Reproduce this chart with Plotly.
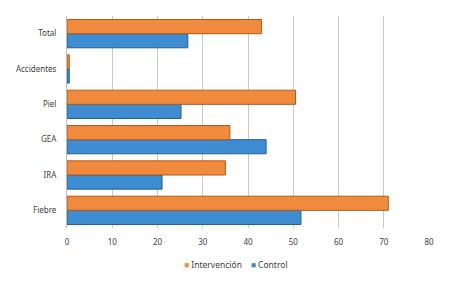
import plotly.graph_objects as go

categories = ["Fiebre", "IRA", "GEA", "Piel", "Accidentes", "Total"]
intervencion = [71, 35, 36, 50.5, 0.5, 43]
control = [51.7, 21, 44, 25.2, 0.5, 26.7]
x_ticks = [0, 10, 20, 30, 40, 50, 60, 70, 80]
series_names = ["Intervención", "Control"]

blue = "#3E8DD3"
orange = "#F08A3C"

fig = go.Figure()
fig.add_trace(go.Bar(
    y=categories, x=control, orientation="h", name=series_names[1],
    marker=dict(color=blue, line=dict(color="#1F5E96", width=1)),
))
fig.add_trace(go.Bar(
    y=categories, x=intervencion, orientation="h", name=series_names[0],
    marker=dict(color=orange, line=dict(color="#B35A18", width=1)),
))

nb = "\u00a0"
legend_text = (f"<span style='color:{orange}'>■</span>{nb}{series_names[0]}"
               f"{nb*4}<span style='color:{blue}'>■</span>{nb}{series_names[1]}")
fig.add_annotation(text=legend_text, xref="paper", yref="paper",
                   x=(236 - 67) / 362, y=-(264 - 228) / 212,
                   xanchor="center", yanchor="middle", showarrow=False,
                   font=dict(size=8.5, color="#404040"))

fig.update_layout(
    width=465, height=282,
    margin=dict(l=67, r=36, t=16, b=54, autoexpand=False),
    paper_bgcolor="white", plot_bgcolor="white",
    barmode="group", bargap=0.2, bargroupgap=0.0, showlegend=False,
    font=dict(family="Noto Sans", size=8, color="#404040"),
    xaxis=dict(range=[0, 80], tickvals=x_ticks, showgrid=True, gridcolor="#C8C8C8",
               gridwidth=1, zeroline=False, showline=False, ticks="", ticklen=0,
               automargin=False, ticklabelstandoff=8),
    yaxis=dict(showline=True, linecolor="#BFBFBF", linewidth=1, ticks="",
               showgrid=False, categoryorder="array", categoryarray=categories,
               automargin=False, ticklabelstandoff=8),
)

fig.write_html("out.html", config={"displayModeBar": False},
               post_script="document.body.style.margin='0px';")
